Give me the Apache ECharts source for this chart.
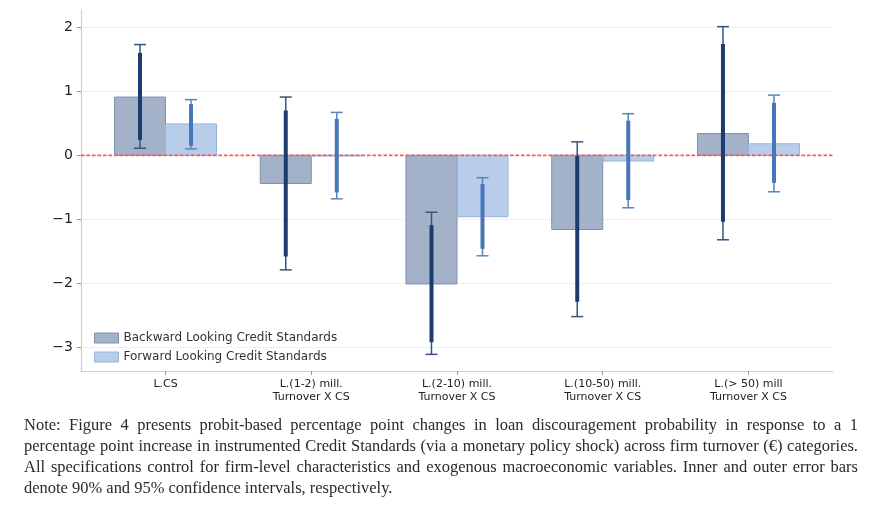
<!DOCTYPE html>
<html>
<head>
<meta charset="utf-8">
<script src="https://cdn.jsdelivr.net/npm/echarts@6/dist/echarts.min.js"></script>
<style>
html,body{margin:0;padding:0;background:#fff;}
#chart{position:absolute;left:0;top:0;width:876px;height:505px;}
#note{position:absolute;left:24px;top:414px;width:834px;font-family:"Liberation Serif",serif;font-size:15px;line-height:21px;color:#2a2a2a;}
#note div{text-align:justify;text-align-last:justify;white-space:normal;}
#note div.last{text-align-last:left;}
</style>
</head>
<body>
<div id="chart"></div>
<div id="note">
<div>Note: Figure 4 presents probit-based percentage point changes in loan discouragement probability in response to a 1</div>
<div id="fitline">percentage point increase in instrumented Credit Standards (via a monetary policy shock) across firm turnover (€) categories.</div>
<div>All specifications control for firm-level characteristics and exogenous macroeconomic variables. Inner and outer error bars</div>
<div class="last">denote 90% and 95% confidence intervals, respectively.</div>
</div>
<script>
const categories = ['L.CS', 'L.(1-2) mill.\nTurnover X CS', 'L.(2-10) mill.\nTurnover X CS', 'L.(10-50) mill.\nTurnover X CS', 'L.(> 50) mill\nTurnover X CS'];
const seriesNames = ['Backward Looking Credit Standards', 'Forward Looking Credit Standards'];
const backward = [0.91, -0.44, -2.01, -1.16, 0.34];
const backwardLo95 = [0.11, -1.79, -3.11, -2.52, -1.32];
const backwardHi95 = [1.73, 0.91, -0.89, 0.21, 2.01];
const backwardLo90 = [0.24, -1.58, -2.92, -2.29, -1.04];
const backwardHi90 = [1.60, 0.70, -1.09, -0.01, 1.74];
const forward = [0.49, -0.01, -0.96, -0.09, 0.18];
const forwardLo95 = [0.10, -0.68, -1.57, -0.82, -0.57];
const forwardHi95 = [0.87, 0.67, -0.35, 0.65, 0.94];
const forwardLo90 = [0.15, -0.58, -1.46, -0.70, -0.43];
const forwardHi90 = [0.80, 0.57, -0.45, 0.54, 0.82];
const yTicks = [-3, -2, -1, 0, 1, 2];
const referenceLines = [0];

// fit the note font so that the full second line spans the text block
(function () {
  const c = document.createElement('canvas').getContext('2d');
  c.font = '100px "Liberation Serif"';
  const w = c.measureText(document.getElementById('fitline').textContent).width;
  const size = Math.min(17, 100 * 826 / w);
  document.getElementById('note').style.fontSize = size.toFixed(2) + 'px';
})();

const BAR_W = 0.35;
const catIdx = categories.map((c, i) => i);

const styles = {
  back: {fill: 'rgba(120,142,176,0.68)', stroke: '#7d91ae', outer: '#34547f', inner: '#1c3c6e'},
  fwd: {fill: 'rgba(150,182,224,0.68)', stroke: '#9ab4da', outer: '#5a85bd', inner: '#4677b8'}
};

function barRender(offset, st) {
  return function (params, api) {
    const i = api.value(0), v = api.value(1);
    const a = api.coord([i + offset, v]);
    const b = api.coord([i + offset + BAR_W, 0]);
    return {
      type: 'rect',
      shape: {x: a[0], y: Math.min(a[1], b[1]), width: b[0] - a[0], height: Math.abs(b[1] - a[1])},
      style: {fill: st.fill, stroke: st.stroke, lineWidth: 1}
    };
  };
}
function errRender(offset, st) {
  return function (params, api) {
    const i = api.value(0);
    const x = i + offset + BAR_W / 2;
    const lo95 = api.coord([x, api.value(1)]);
    const hi95 = api.coord([x, api.value(2)]);
    const lo90 = api.coord([x, api.value(3)]);
    const hi90 = api.coord([x, api.value(4)]);
    const cx = lo95[0], cap = 6;
    return {
      type: 'group',
      children: [
        {type: 'line', shape: {x1: cx, y1: lo95[1], x2: cx, y2: hi95[1]}, style: {stroke: st.outer, lineWidth: 1.5}},
        {type: 'line', shape: {x1: cx - cap, y1: lo95[1], x2: cx + cap, y2: lo95[1]}, style: {stroke: st.outer, lineWidth: 1.5}},
        {type: 'line', shape: {x1: cx - cap, y1: hi95[1], x2: cx + cap, y2: hi95[1]}, style: {stroke: st.outer, lineWidth: 1.5}},
        {type: 'line', shape: {x1: cx, y1: lo90[1], x2: cx, y2: hi90[1]}, style: {stroke: st.inner, lineWidth: 4}}
      ]
    };
  };
}
function hlineRender(params, api) {
  const cs = params.coordSys;
  const y = api.coord([0, api.value(0)])[1];
  return {
    type: 'line',
    shape: {x1: cs.x, y1: y, x2: cs.x + cs.width, y2: y},
    style: {stroke: '#ea5f5f', lineWidth: 1.7, lineDash: [3.5, 2]}
  };
}

const chart = echarts.init(document.getElementById('chart'), null, {renderer: 'canvas'});
const fmtMinus = v => (v < 0 ? '\u2212' + Math.abs(v) : String(v));

chart.setOption({
  animation: false,
  grid: {left: 81, right: 43, top: 10, bottom: 134, containLabel: false},
  xAxis: {
    type: 'value', min: -0.58, max: 4.58,
    axisLine: {show: true, onZero: false, lineStyle: {color: '#cfcfcf', width: 1.2}},
    axisTick: {show: true, customValues: catIdx, length: 4, lineStyle: {color: '#999'}},
    axisLabel: {customValues: catIdx, formatter: v => categories[Math.round(v)], color: '#222', fontSize: 11, fontFamily: 'DejaVu Sans', lineHeight: 13, margin: 7},
    splitLine: {show: false}
  },
  yAxis: {
    type: 'value', min: -3.37, max: 2.27,
    axisLine: {show: true, onZero: false, lineStyle: {color: '#cfcfcf', width: 1.2}},
    axisTick: {show: true, customValues: yTicks, length: 4, lineStyle: {color: '#999'}},
    axisLabel: {customValues: yTicks, formatter: fmtMinus, color: '#222', fontSize: 14, fontFamily: 'DejaVu Sans', margin: 8},
    splitLine: {show: true, lineStyle: {color: '#e2e2e2', type: [1, 1], width: 1}}
  },
  legend: {
    orient: 'vertical', left: 89, top: 327, itemWidth: 24, itemHeight: 10, itemGap: 7,
    textStyle: {color: '#333', fontSize: 12, fontFamily: 'DejaVu Sans'},
    data: [
      {name: seriesNames[0], icon: 'rect', itemStyle: {color: styles.back.fill, borderColor: styles.back.stroke, borderWidth: 1}},
      {name: seriesNames[1], icon: 'rect', itemStyle: {color: styles.fwd.fill, borderColor: styles.fwd.stroke, borderWidth: 1}}
    ]
  },
  series: [
    {
      name: seriesNames[0], type: 'custom', z: 2, renderItem: barRender(-BAR_W, styles.back),
      itemStyle: {color: styles.back.fill},
      data: backward.map((v, i) => [i, v])
    },
    {
      name: seriesNames[1], type: 'custom', z: 2, renderItem: barRender(0, styles.fwd),
      itemStyle: {color: styles.fwd.fill},
      data: forward.map((v, i) => [i, v])
    },
    {
      name: 'zero', type: 'custom', z: 3, renderItem: hlineRender, silent: true,
      encode: {y: 0},
      data: referenceLines.map(v => [v])
    },
    {
      name: 'err1', type: 'custom', z: 4, renderItem: errRender(-BAR_W, styles.back),
      data: backward.map((v, i) => [i, backwardLo95[i], backwardHi95[i], backwardLo90[i], backwardHi90[i]])
    },
    {
      name: 'err2', type: 'custom', z: 4, renderItem: errRender(0, styles.fwd),
      data: forward.map((v, i) => [i, forwardLo95[i], forwardHi95[i], forwardLo90[i], forwardHi90[i]])
    }
  ]
});
</script>
</body>
</html>
